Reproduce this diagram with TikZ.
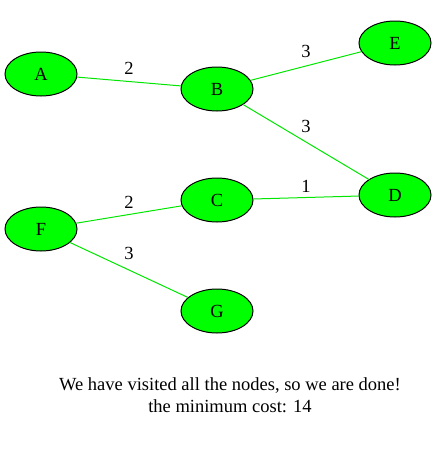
\documentclass[tikz,border=0pt]{standalone}
\usepackage{fontspec}
\setmainfont{Liberation Serif}
\usetikzlibrary{shapes.geometric}
\definecolor{NodeGreen}{RGB}{0,255,0}
\definecolor{EdgeGreen}{RGB}{0,230,0}
\tikzset{
  vertex/.style={ellipse,draw=black,fill=NodeGreen,line width=1pt,
    minimum width=72pt,minimum height=44pt,inner sep=0pt,
    font=\fontsize{18.5}{21}\selectfont},
  edge/.style={EdgeGreen,line width=1pt},
  cost/.style={font=\fontsize{18.5}{21}\selectfont,inner sep=0pt},
  note/.style={font=\fontsize{18.5}{22}\selectfont,align=center}
}
\begin{document}
\begin{tikzpicture}[x=1pt,y=-1pt]
      \useasboundingbox (0,0) rectangle (437,451);
      % vertices
      \node[vertex] (A) at (41,74) {A};
      \node[vertex] (B) at (217,89) {B};
      \node[vertex] (E) at (395,43) {E};
      \node[vertex] (D) at (395,195) {D};
      \node[vertex] (C) at (217,200) {C};
      \node[vertex] (F) at (41,229) {F};
      \node[vertex] (G) at (217,311) {G};

      % edges of the tree
      \draw[edge] (A) -- (B);
      \draw[edge] (B) -- (E);
      \draw[edge] (B) -- (D);
      \draw[edge] (C) -- (D);
      \draw[edge] (F) -- (C);
      \draw[edge] (F) -- (G);

      % costs
      \node[cost] (ab) at (129,68) {2};
      \node[cost] (be) at (306,51) {3};
      \node[cost] (bd) at (306,126) {3};
      \node[cost] (cd) at (306,186) {1};
      \node[cost] (fc) at (129,202) {2};
      \node[cost] (fg) at (129,253) {3};

      \node[note] (msg) at (230,395)
        {We have visited all the nodes, so we are done!\\the minimum cost: 14};
    \end{tikzpicture}
\end{document}
